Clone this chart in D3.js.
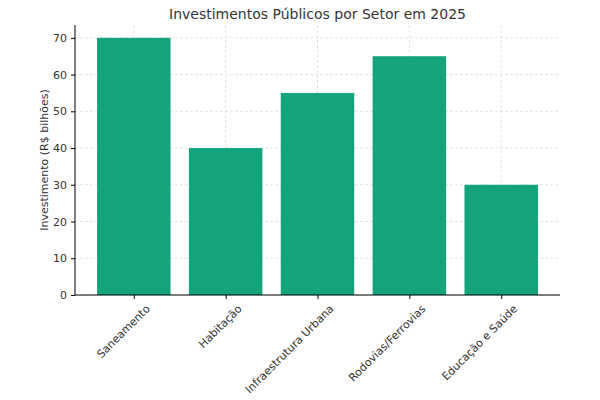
<!DOCTYPE html>
<html><head><meta charset="utf-8">
<script src="https://cdn.jsdelivr.net/npm/d3@7"></script>
<style>body{margin:0;background:#fff}</style></head>
<body><svg id="c" width="600" height="400"></svg>
<script>
const categories=["Saneamento","Habitação","Infraestrutura Urbana","Rodovias/Ferrovias","Educação e Saúde"];
const values=[70,40,55,65,30];
const yTicks=[0,10,20,30,40,50,60,70];
const svg=d3.select("#c"),f="DejaVu Sans, sans-serif";
const L=75,R=560,T=25,B=295;
const x=d3.scaleLinear().domain([-0.64,4.64]).range([L,R]);
const y=d3.scaleLinear().domain([0,73.5]).range([B,T]);
const bw=x(0.8)-x(0);
const g=svg.append("g");
yTicks.forEach(t=>g.append("line").attr("x1",L).attr("x2",R).attr("y1",y(t)).attr("y2",y(t)).attr("stroke","#ddd").attr("stroke-dasharray","3,2").attr("stroke-width",0.8));
categories.forEach((c,i)=>g.append("line").attr("x1",x(i)).attr("x2",x(i)).attr("y1",T).attr("y2",B).attr("stroke","#ddd").attr("stroke-dasharray","3,2").attr("stroke-width",0.8));
svg.selectAll("rect").data(values).enter().append("rect")
 .attr("x",(d,i)=>x(i)-bw/2).attr("width",bw).attr("y",d=>y(d)).attr("height",d=>B-y(d)).attr("fill","#14a37b");
const ya=svg.append("g").attr("transform",`translate(${L},0)`).call(d3.axisLeft(y).tickValues(yTicks).tickSize(4).tickPadding(4));
ya.select(".domain").attr("d",`M0,${T}V${B}`);
ya.selectAll("text").attr("font-family",f).attr("font-size",11).attr("fill","#333");
const xa=svg.append("g").attr("transform",`translate(0,${B})`).call(d3.axisBottom(x).tickValues([0,1,2,3,4]).tickFormat(i=>categories[i]).tickSize(4));
xa.select(".domain").attr("d",`M${L},0H${R}`);
xa.selectAll("text").attr("font-family",f).attr("font-size",11).attr("fill","#333")
 .attr("text-anchor","end").attr("transform","translate(6,4) rotate(-45)").attr("dy","0.7em").attr("dx","0");
svg.append("text").attr("x",(L+R)/2).attr("y",19).attr("text-anchor","middle").attr("font-family",f).attr("font-size",14).attr("fill","#333").text("Investimentos Públicos por Setor em 2025");
svg.append("text").attr("transform",`translate(48,${(T+B)/2}) rotate(-90)`).attr("text-anchor","middle").attr("font-family",f).attr("font-size",11).attr("fill","#333").text("Investimento (R$ bilhões)");
</script></body></html>
